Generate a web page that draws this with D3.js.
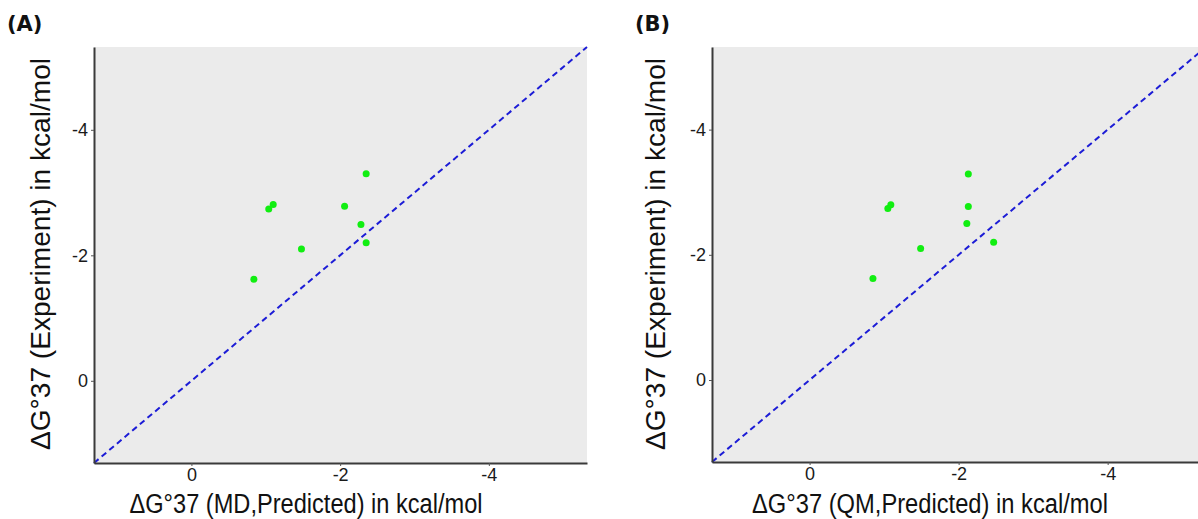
<!DOCTYPE html>
<html>
<head>
<meta charset="utf-8">
<script src="https://cdn.jsdelivr.net/npm/d3@7"></script>
<style>
  body { margin: 0; background: #fff; }
  svg { display: block; }
  .tick text { font-family: "Liberation Sans", Arial, sans-serif; }
</style>
</head>
<body>
<svg id="chart"></svg>
<script>
// values (kcal/mol)
const mdPredicted = [-0.84, -1.04, -1.10, -1.48, -2.06, -2.28, -2.35, -2.35];
const mdExperiment = [-1.62, -2.74, -2.81, -2.10, -2.78, -2.49, -3.30, -2.20];
const qmPredicted = [-0.85, -1.05, -1.09, -1.49, -2.13, -2.13, -2.11, -2.47];
const qmExperiment = [-1.62, -2.74, -2.80, -2.10, -3.29, -2.77, -2.50, -2.20];
const tickValues = [0, -2, -4];
const axisDomain = [1.31, -5.32];
const panelLabels = ['(A)', '(B)'];
const xTitles = ['\u0394G\u00b037 (MD,Predicted) in kcal/mol', '\u0394G\u00b037 (QM,Predicted) in kcal/mol'];
const yTitle = '\u0394G\u00b037 (Experiment) in kcal/mol';

let svg = d3.select('#chart')
    .attr('width', 1198)
    .attr('height', 519);

function getPanelConfig(i) {
    // pixel boxes of the two panels
    let boxes = [
        { left: 94, right: 587, top: 47, bottom: 463, labelX: 7, yTitleX: 50, xTitleX: 306, xTitleW: 353 },
        { left: 712, right: 1206, top: 47, bottom: 462, labelX: 635, yTitleX: 665, xTitleX: 930, xTitleW: 356 }
    ];
    return boxes[i];
}

function drawPanel(i, xs, ys) {
    let cfg = getPanelConfig(i);
    let xScale = d3.scaleLinear().domain(axisDomain).range([cfg.left, cfg.right]);
    let yScale = d3.scaleLinear().domain(axisDomain).range([cfg.bottom, cfg.top]);

    let g = svg.append('g');

    g.append('rect')
        .attr('x', cfg.left)
        .attr('y', cfg.top)
        .attr('width', cfg.right - cfg.left)
        .attr('height', cfg.bottom - cfg.top)
        .attr('fill', '#ebebeb');

    // y = x reference line
    g.append('line')
        .attr('x1', xScale(axisDomain[0]))
        .attr('y1', yScale(axisDomain[0]))
        .attr('x2', xScale(axisDomain[1]))
        .attr('y2', yScale(axisDomain[1]))
        .attr('stroke', '#1c1cd6')
        .attr('stroke-width', 2)
        .attr('stroke-dasharray', '6,4');

    let points = xs.map((x, k) => ({ x: x, y: ys[k] }));
    g.selectAll('circle').data(points)
        .enter().append('circle')
        .attr('cx', d => xScale(d.x))
        .attr('cy', d => yScale(d.y))
        .attr('r', 3.5)
        .attr('fill', '#11ee11');

    let axisX = d3.axisBottom(xScale)
        .tickValues(tickValues)
        .tickFormat(d => String(d))
        .tickSize(3)
        .tickPadding(2)
        .tickSizeOuter(0);
    let gx = g.append('g')
        .attr('transform', `translate(0,${cfg.bottom})`)
        .call(axisX);

    let axisY = d3.axisLeft(yScale)
        .tickValues(tickValues)
        .tickFormat(d => String(d))
        .tickSize(3)
        .tickPadding(3)
        .tickSizeOuter(0);
    let gy = g.append('g')
        .attr('transform', `translate(${cfg.left},0)`)
        .call(axisY);

    [gx, gy].forEach(a => {
        a.select('.domain').attr('stroke', '#3a3a3a').attr('stroke-width', 2);
        a.selectAll('.tick line').attr('stroke', '#555');
        a.selectAll('.tick text').attr('font-size', 18).attr('fill', '#1a1a1a');
    });

    g.append('text')
        .attr('x', cfg.xTitleX)
        .attr('y', 513)
        .attr('text-anchor', 'middle')
        .attr('font-family', '"Liberation Sans", Arial, sans-serif')
        .attr('font-size', 27)
        .attr('fill', '#111')
        .attr('textLength', cfg.xTitleW)
        .attr('lengthAdjust', 'spacingAndGlyphs')
        .text(xTitles[i]);

    g.append('text')
        .attr('transform', `translate(${cfg.yTitleX},254) rotate(-90)`)
        .attr('text-anchor', 'middle')
        .attr('font-family', '"Liberation Sans", Arial, sans-serif')
        .attr('font-size', 28)
        .attr('fill', '#111')
        .attr('textLength', 392)
        .attr('lengthAdjust', 'spacingAndGlyphs')
        .text(yTitle);

    g.append('text')
        .attr('x', cfg.labelX)
        .attr('y', 31)
        .attr('font-family', '"DejaVu Sans", sans-serif')
        .attr('font-weight', 'bold')
        .attr('font-size', 21)
        .attr('fill', '#111')
        .text(panelLabels[i]);
}

drawPanel(0, mdPredicted, mdExperiment);
drawPanel(1, qmPredicted, qmExperiment);
</script>
</body>
</html>
